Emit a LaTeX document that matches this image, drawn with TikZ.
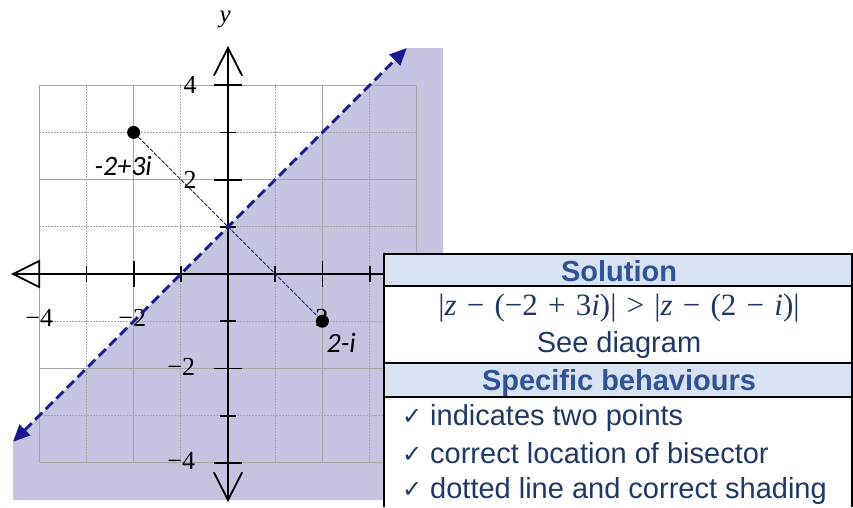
\documentclass[tikz,border=0pt]{standalone}
\usepackage{fontspec}
\setmainfont{Liberation Sans}
\newfontfamily\calib{Carlito}
\newfontfamily\serifit{Liberation Serif}
\newfontfamily\dejavu{DejaVu Sans}
\usetikzlibrary{arrows.meta}
\definecolor{shadecol}{RGB}{196,195,224}
\definecolor{navyline}{RGB}{25,25,140}
\definecolor{gridgray}{RGB}{165,165,165}
\definecolor{hdrbg}{RGB}{217,226,243}
\definecolor{hdrtxt}{RGB}{47,84,150}
\definecolor{bodytxt}{RGB}{31,56,100}
\tikzset{
  majorgrid/.style={gridgray, line width=1.2pt},
  minorgrid/.style={gridgray, line width=1pt, dash pattern=on 1.5pt off 1.5pt},
  axisline/.style={black, line width=1.8pt},
  dotpt/.style={circle, fill=black, inner sep=0pt, minimum size=13pt},
  numlab/.style={inner sep=0pt, font=\fontsize{26}{30}\selectfont\serifit},
  ptlab/.style={inner sep=0pt, font=\fontsize{28}{32}\selectfont\calib\itshape},
  hdr/.style={anchor=base, inner sep=0pt, text=hdrtxt, font=\fontsize{29}{34}\selectfont\bfseries},
  bodyt/.style={anchor=base, inner sep=0pt, text=bodytxt, font=\fontsize{29}{34}\selectfont},
  formt/.style={anchor=base, inner sep=0pt, text=bodytxt, font=\fontsize{31}{34}\selectfont\serifit},
  item/.style={anchor=base west, inner sep=0pt, text=bodytxt, font=\fontsize{29}{34}\selectfont},
  tabline/.style={black, line width=2pt}
}
\newcommand{\chk}{\makebox[28pt][l]{\raisebox{1pt}{\dejavu\fontsize{24}{26}\selectfont ✓}}}
\newcommand{\bop}[1]{\hspace{0.33em}#1\hspace{0.33em}}
\newcommand{\vi}[1]{{\itshape #1}}
\begin{document}
\begin{tikzpicture}[x=1pt,y=-1pt]
\useasboundingbox (0,0) rectangle (853,507);
% shaded region
\fill[shadecol] (13,442) -- (407,48) -- (443,48) -- (443,500) -- (13,500) -- cycle;
\begin{scope}[shift={(228,274)},x=47.2pt,y=47.2pt]
  % grid
  \foreach \k in {-3,-1,1,3} {
    \draw[minorgrid] (\k,-4) -- (\k,4);
    \draw[minorgrid] (-4,\k) -- (4,\k);
  }
  \foreach \k in {-4,-2,0,2,4} {
    \draw[majorgrid] (\k,-4) -- (\k,4);
    \draw[majorgrid] (-4,\k) -- (4,\k);
  }
  % axes
  \coordinate (xl) at (-4.555,0);
  \coordinate (xr) at (3.6,0);
  \coordinate (yb) at (0,-4.79);
  \coordinate (yt) at (0,4.79);
  \draw[axisline] (xl) -- (xr);
  \draw[axisline] (yb) -- (yt);
  \draw[axisline, line join=miter] (-4,0.275) -- (xl) -- (-4,-0.275) -- cycle;
  \draw[axisline] (-0.3,4.2) -- (yt) -- (0.3,4.2);
  \draw[axisline] (-0.3,-4.2) -- (yb) -- (0.3,-4.2);
  % ticks
  \foreach \k in {-4,-2,2,4} \draw[axisline] (-0.29,\k) -- (0.29,\k);
  \foreach \k in {-3,-1,1,3} \draw[axisline] (-0.16,\k) -- (0.16,\k);
  \foreach \k in {-2,2} \draw[axisline] (\k,-0.27) -- (\k,0.27);
  \foreach \k in {-3,-1,1,3} \draw[axisline] (\k,-0.17) -- (\k,0.17);
  % axis labels
  \node[numlab] (ly4) at (-0.8,4) {4};
  \node[numlab] (ly2) at (-0.8,2) {2};
  \node[numlab] (lym2) at (-0.99,-1.97) {−2};
  \node[numlab] (lym4) at (-0.99,-3.95) {−4};
  \node[numlab] (lxm4) at (-4.0,-0.93) {−4};
  \node[numlab] (lxm2) at (-2.03,-0.93) {−2};
  \node[numlab] (lx2) at (1.99,-0.93) {2};
  \node[inner sep=0pt, font=\fontsize{25}{30}\selectfont\serifit\itshape] (ylab) at (-0.06,5.4) {y};
  % points
  \node[dotpt] (p1) at (-2,3) {};
  \node[dotpt] (p2) at (2,-1) {};
  \draw[navyline, line width=0.9pt, dash pattern=on 4pt off 1.5pt] (p1) -- (p2);
  \node[ptlab] (lp1) at (-2.22,2.28) {-2+3i};
  \node[ptlab] (lp2) at (2.4,-1.45) {2-i};
  % bisector
  \coordinate (b1) at (-4.555,-3.555);
  \coordinate (b2) at (3.788,4.788);
  \draw[navyline, line width=2.8pt, dash pattern=on 10pt off 5pt,
        {Triangle[length=17pt,width=15pt]}-{Triangle[length=17pt,width=15pt]}] (b1) -- (b2);
\end{scope}
% table
\fill[white] (384,254) rectangle (853,507);
\fill[hdrbg] (384,254) rectangle (853,286);
\fill[hdrbg] (384,363) rectangle (853,397);
\draw[tabline] (853,254) -- (384,254) -- (384,507);
\draw[tabline] (384,286) -- (853,286);
\draw[tabline] (384,363) -- (853,363);
\draw[tabline] (384,397) -- (853,397);
\draw[tabline] (852,254) -- (852,507);
\node[hdr] (sol) at (619,281) {Solution};
\node[formt] (form) at (619,315) {|\vi{z}\bop{−}(−2\bop{+}3\vi{i})|\bop{>}|\vi{z}\bop{−}(2\bop{−}\vi{i})|};
\node[bodyt] (see) at (619,352) {See diagram};
\node[hdr] (spec) at (619,390) {Specific behaviours};
\node[item] (i1) at (402,425) {\chk indicates two points};
\node[item] (i2) at (402,463) {\chk correct location of bisector};
\node[item] (i3) at (402,498) {\chk dotted line and correct shading};
\end{tikzpicture}
\end{document}
